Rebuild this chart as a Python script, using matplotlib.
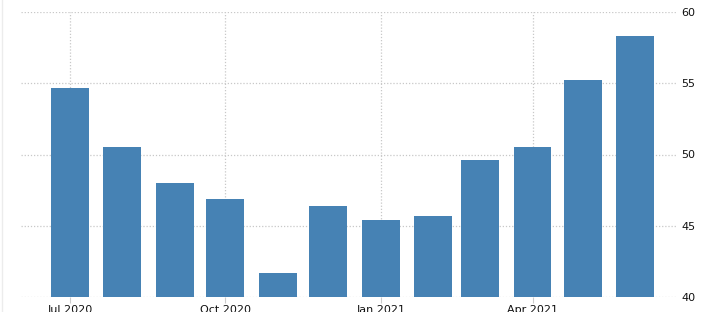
import matplotlib
matplotlib.use('Agg')
import matplotlib.pyplot as plt
import matplotlib.dates as mdates
import datetime as dt

# monthly values, Jul 2020 - Jun 2021
months = ['2020-07', '2020-08', '2020-09', '2020-10', '2020-11', '2020-12',
          '2021-01', '2021-02', '2021-03', '2021-04', '2021-05', '2021-06']
values = [54.7, 50.5, 48.0, 46.9, 41.7, 46.4, 45.4, 45.7, 49.6, 50.5, 55.2, 58.3]
y_ticks = [40, 45, 50, 55, 60]
x_ticks = ['2020-07', '2020-10', '2021-01', '2021-04']

dates = [dt.datetime.strptime(m, '%Y-%m') for m in months]
tick_dates = [dt.datetime.strptime(m, '%Y-%m') for m in x_ticks]

fig = plt.figure(figsize=(7.05, 3.12), dpi=100)
ax = fig.add_axes([21 / 705, 15 / 312, 655 / 705, 285 / 312])

ax.bar(dates, [v - 40 for v in values], bottom=40, width=22.5,
       color='#4682b4', zorder=3)

ax.set_xlim(dt.datetime(2020, 6, 2), dt.datetime(2021, 6, 25))
ax.set_ylim(40, 60)

ax.set_yticks(y_ticks)
ax.yaxis.tick_right()
ax.tick_params(axis='y', length=0, pad=4, labelsize=8, labelcolor='#111111')

ax.set_xticks(tick_dates)
ax.xaxis.set_major_formatter(mdates.DateFormatter('%b %Y'))
ax.tick_params(axis='x', length=4, color='#cccccc', pad=2, labelsize=8,
               labelcolor='#111111')

ax.grid(True, linestyle=(0, (1, 1.5)), color='#c8c8c8', linewidth=0.9, zorder=0)
for s in ax.spines.values():
    s.set_visible(False)

# faint frame line at the left edge
fig.add_artist(plt.Line2D([1.5 / 705, 1.5 / 705], [0, 1], color='#ececec', linewidth=1))

fig.savefig('out.png', dpi=100)
